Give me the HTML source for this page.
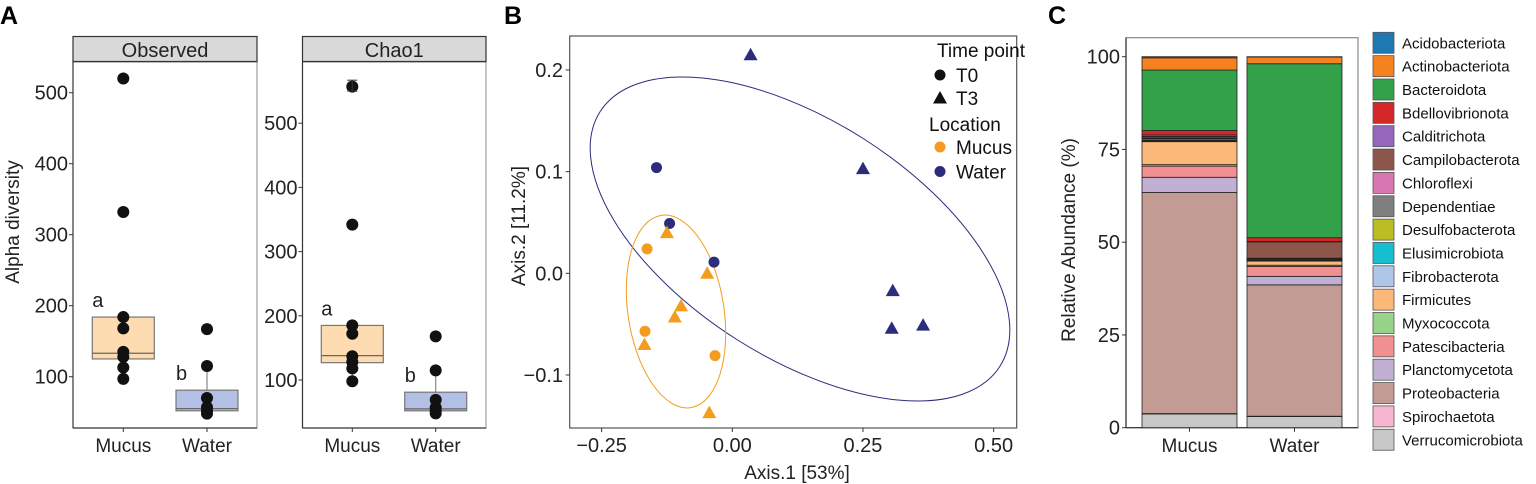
<!DOCTYPE html>
<html><head><meta charset="utf-8"><style>
html,body{margin:0;padding:0;background:#fff;}
svg{display:block;font-family:"Liberation Sans",Arial,sans-serif;}
</style></head><body>
<svg id="fig" width="1536" height="484" viewBox="0 0 1536 484">
<text x="0" y="24" font-size="25" font-weight="bold">A</text>
<text x="504" y="24" font-size="25" font-weight="bold">B</text>
<text x="1048" y="24" font-size="25" font-weight="bold">C</text>
<g id="pa"></g>
<g id="pb"></g>
<g id="pc"></g>
</svg>
<script>
// ---------- Panel A data ----------
const aGroups = ["Mucus","Water"];
const obsMucus = [520,332,184,168,135,128,113,97];
const obsWater = [167,115,70,57,52,48];
const obsBoxMucus = [125,133,184,97,184]; // q1, median, q3, whiskerLo, whiskerHi
const obsBoxWater = [52,55,81,48,115];
const chaoMucus = [557,342,185,172,137,128,118,98];
const chaoWater = [168,115,69,57,52,48];
const chaoBoxMucus = [127,138,185,98,185];
const chaoBoxWater = [52,55,81,48,115];
const chaoErr = [557,550,567];
const aTicks = [100,200,300,400,500];

// ---------- Panel B data ----------
const waterT0x = [-0.145,-0.12,-0.035];
const waterT0y = [0.104,0.049,0.011];
const waterT3x = [0.035,0.25,0.307,0.305,0.365];
const waterT3y = [0.215,0.103,-0.017,-0.054,-0.051];
const mucusT0x = [-0.163,-0.167,-0.033];
const mucusT0y = [0.024,-0.057,-0.081];
const mucusT3x = [-0.125,-0.048,-0.098,-0.11,-0.168,-0.044];
const mucusT3y = [0.040,0.000,-0.032,-0.043,-0.070,-0.137];
const bXTicks = [-0.25,0,0.25,0.5];
const bXLabels = ["\u22120.25","0.00","0.25","0.50"];
const bYTicks = [-0.1,0,0.1,0.2];
const bYLabels = ["\u22120.1","0.0","0.1","0.2"];

// ---------- Panel C data ----------
const phyla = ["Acidobacteriota","Actinobacteriota","Bacteroidota","Bdellovibrionota","Calditrichota","Campilobacterota","Chloroflexi","Dependentiae","Desulfobacterota","Elusimicrobiota","Fibrobacterota","Firmicutes","Myxococcota","Patescibacteria","Planctomycetota","Proteobacteria","Spirochaetota","Verrucomicrobiota"];
const phylaColors = ["#1f77b4","#f5821f","#33a04a","#d62728","#9467bd","#8c564b","#d776b0","#7f7f7f","#bcbd22","#17becf","#aec7e8","#fbb878","#98d38a","#f19090","#c2afd4","#c29c93","#f6b6d2","#c7c7c7"];
const cSamples = ["Mucus","Water"];
const mucusAbund = [0.3,3.3,16.3,1.2,0.4,0.4,0.2,0.4,0.2,0.1,0.1,6.2,0.4,3.0,4.1,59.6,0.1,3.7];
const waterAbund = [0.1,1.8,46.9,1.0,0.1,4.4,0.2,0.2,0.2,0.1,0.1,1.1,0.3,2.7,2.3,35.4,0.1,3.0];
const cTicks = [0,25,50,75,100];

const NS="http://www.w3.org/2000/svg";
function mk(parent,tag,attrs,text){const e=document.createElementNS(NS,tag);for(const k in attrs)e.setAttribute(k,attrs[k]);if(text!==undefined)e.textContent=text;parent.appendChild(e);return e;}

// ---------- Panel A ----------
const pa=document.getElementById('pa');
const yt=mk(pa,'text',{x:0,y:0,'font-size':19,'text-anchor':'middle',fill:'#222',transform:'translate(19,222) rotate(-90)'},'Alpha diversity');


function facet(cfg){
  const g=mk(pa,'g',{});
  
  
  const y=v=>cfg.y0-(v-100)*cfg.k;
  const xs=[cfg.xm,cfg.xw];
  mk(g,'rect',{x:cfg.l,y:62,width:cfg.r-cfg.l,height:366,fill:'#fff',stroke:'#888','stroke-width':1});
  const strip=mk(g,'rect',{x:cfg.l,y:36.5,width:cfg.r-cfg.l,height:25,fill:'#d9d9d9',stroke:'#333','stroke-width':1.2});
  
  
  const st=mk(g,'text',{x:(cfg.l+cfg.r)/2,y:57,'font-size':20,'text-anchor':'middle',fill:'#222'},cfg.title);
  
  
  mk(g,'line',{x1:cfg.l,y1:62,x2:cfg.l,y2:428,stroke:'#333','stroke-width':1.2});
  mk(g,'line',{x1:cfg.l,y1:428,x2:cfg.r,y2:428,stroke:'#333','stroke-width':1.2});
  aTicks.forEach(t=>{
    mk(g,'line',{x1:cfg.l-4,y1:y(t),x2:cfg.l,y2:y(t),stroke:'#333'});
    const tl=mk(g,'text',{x:cfg.l-5,y:y(t)+7,'font-size':20,'text-anchor':'end',fill:'#222'},String(t));
    
    
  });
  aGroups.forEach((gname,i)=>{
    mk(g,'line',{x1:xs[i],y1:428,x2:xs[i],y2:432,stroke:'#333'});
    const xl=mk(g,'text',{x:xs[i],y:452,'font-size':19,'text-anchor':'middle',fill:'#222'},gname);
    
    
  });
  [cfg.boxM,cfg.boxW].forEach((b,i)=>{
    const cx=xs[i];
    mk(g,'line',{x1:cx,y1:y(b[3]),x2:cx,y2:y(b[0]),stroke:'#888','stroke-width':1.2});
    mk(g,'line',{x1:cx,y1:y(b[2]),x2:cx,y2:y(b[4]),stroke:'#888','stroke-width':1.2});
    const r=mk(g,'rect',{x:cx-31,y:y(b[2]),width:62,height:y(b[0])-y(b[2]),fill:i?'#b3c0e6':'#fcdcb0',stroke:'#777','stroke-width':1.2});
    
    
    mk(g,'line',{x1:cx-31,y1:y(b[1]),x2:cx+31,y2:y(b[1]),stroke:'#666','stroke-width':1.2});
  });
  [cfg.ptsM,cfg.ptsW].forEach((arr,i)=>{
    arr.forEach(v=>{
      const c=mk(g,'circle',{cx:xs[i],cy:y(v),r:6,fill:'#111'});
      
      
    });
  });
  if(cfg.err){
    const e=cfg.err;
    mk(g,'line',{x1:xs[0],y1:y(e[1]),x2:xs[0],y2:y(e[2]),stroke:'#333'});
    mk(g,'line',{x1:xs[0]-5,y1:y(e[1]),x2:xs[0]+5,y2:y(e[1]),stroke:'#333'});
    mk(g,'line',{x1:xs[0]-5,y1:y(e[2]),x2:xs[0]+5,y2:y(e[2]),stroke:'#333'});
  }
  const la=mk(g,'text',{x:cfg.xm-31,y:y(cfg.boxM[2])-10,'font-size':20,fill:'#222'},'a');
  
  
  const lb=mk(g,'text',{x:cfg.xw-31,y:y(cfg.boxW[2])-10,'font-size':20,fill:'#222'},'b');
  
  
}
facet({name:'observed-facet',title:'Observed',l:73,r:257,xm:123.3,xw:207,y0:376.7,k:0.71,ptsM:obsMucus,ptsW:obsWater,boxM:obsBoxMucus,boxW:obsBoxWater});
facet({name:'chao1-facet',title:'Chao1',l:302.5,r:486,xm:352.3,xw:435.7,y0:380,k:0.642,ptsM:chaoMucus,ptsW:chaoWater,boxM:chaoBoxMucus,boxW:chaoBoxWater,err:chaoErr});

// ---------- Panel B ----------
const pb=document.getElementById('pb');
const bx=v=>732.3+v*522.7, by=v=>273.3-v*1016.7;
mk(pb,'rect',{x:569.7,y:36,width:447,height:392,fill:'none',stroke:'#555','stroke-width':1.2});
bXTicks.forEach((t,i)=>{
  mk(pb,'line',{x1:bx(t),y1:428,x2:bx(t),y2:432,stroke:'#333'});
  const tl=mk(pb,'text',{x:bx(t),y:452,'font-size':20,'text-anchor':'middle',fill:'#222'},bXLabels[i]);
  
  
});
bYTicks.forEach((t,i)=>{
  mk(pb,'line',{x1:565.7,y1:by(t),x2:569.7,y2:by(t),stroke:'#333'});
  const tl=mk(pb,'text',{x:563,y:by(t)+7,'font-size':20,'text-anchor':'end',fill:'#222'},bYLabels[i]);
  
  
});
const bxt=mk(pb,'text',{x:797,y:479,'font-size':19,'text-anchor':'middle',fill:'#222'},'Axis.1 [53%]');


const byt=mk(pb,'text',{x:0,y:0,'font-size':19,'text-anchor':'middle',fill:'#222',transform:'translate(525,226) rotate(-90)'},'Axis.2 [11.2%]');


const e1=mk(pb,'ellipse',{cx:800,cy:239,rx:237,ry:118.7,transform:'rotate(32.5 800 239)',fill:'none',stroke:'#2b2d7c','stroke-width':1});


const e2=mk(pb,'ellipse',{cx:676,cy:311.5,rx:97.3,ry:48,transform:'rotate(81.3 676 311.5)',fill:'none',stroke:'#f39c1e','stroke-width':1});


function circ(xs,ys,col){xs.forEach((v,i)=>{const c=mk(pb,'circle',{cx:bx(v),cy:by(ys[i]),r:5.5,fill:col});});}
function tri(xs,ys,col){xs.forEach((v,i)=>{const X=bx(v),Y=by(ys[i]);const p=mk(pb,'polygon',{points:`${X},${Y-7} ${X-7},${Y+5.5} ${X+7},${Y+5.5}`,fill:col});});}
const ORG='#f39c1e', NAV='#2b2d7c';
circ(waterT0x,waterT0y,NAV);tri(waterT3x,waterT3y,NAV);
circ(mucusT0x,mucusT0y,ORG);tri(mucusT3x,mucusT3y,ORG);
const lg=mk(pb,'g',{});


mk(lg,'text',{x:937,y:57,'font-size':19,fill:'#111'},'Time point');
mk(lg,'circle',{cx:940,cy:75,r:5.5,fill:'#111'});
mk(lg,'text',{x:956,y:82,'font-size':19,fill:'#111'},'T0');
mk(lg,'polygon',{points:'940,91 933,103.5 947,103.5',fill:'#111'});
mk(lg,'text',{x:956,y:105,'font-size':19,fill:'#111'},'T3');
mk(lg,'text',{x:929,y:131,'font-size':19,fill:'#111'},'Location');
mk(lg,'circle',{cx:940,cy:147,r:5.5,fill:ORG});
mk(lg,'text',{x:956,y:154,'font-size':19,fill:'#111'},'Mucus');
mk(lg,'circle',{cx:940,cy:171.5,r:5.5,fill:NAV});
mk(lg,'text',{x:956,y:178.5,'font-size':19,fill:'#111'},'Water');

// ---------- Panel C ----------
const pc=document.getElementById('pc');
const cy=v=>427.7-v*3.71;
const barX=[1142,1247], barW=95;
mk(pc,'rect',{x:1126,y:37.7,width:232,height:390,fill:'#fff',stroke:'#888','stroke-width':1.2});
mk(pc,'line',{x1:1126,y1:37.7,x2:1126,y2:427.7,stroke:'#333','stroke-width':1.2});
mk(pc,'line',{x1:1126,y1:427.7,x2:1358,y2:427.7,stroke:'#333','stroke-width':1.2});
cTicks.forEach(t=>{
  mk(pc,'line',{x1:1122,y1:cy(t),x2:1126,y2:cy(t),stroke:'#333'});
  const tl=mk(pc,'text',{x:1120,y:cy(t)+7,'font-size':20,'text-anchor':'end',fill:'#222'},String(t));
  
  
});
const cyt=mk(pc,'text',{x:0,y:0,'font-size':19,'text-anchor':'middle',fill:'#222',transform:'translate(1075,240) rotate(-90)'},'Relative Abundance (%)');


[mucusAbund,waterAbund].forEach((vals,si)=>{
  let acc=0;
  for(let i=phyla.length-1;i>=0;i--){
    const v=vals[i];
    const r=mk(pc,'rect',{x:barX[si],y:cy(acc+v),width:barW,height:cy(acc)-cy(acc+v),fill:phylaColors[i],stroke:'#222','stroke-width':0.8});
    
    
    acc+=v;
  }
  const cx=barX[si]+barW/2;
  mk(pc,'line',{x1:cx,y1:427.7,x2:cx,y2:431.7,stroke:'#333'});
  const xl=mk(pc,'text',{x:cx,y:452,'font-size':19,'text-anchor':'middle',fill:'#222'},cSamples[si]);
  
  
});
phyla.forEach((p,i)=>{
  const y0=32.3+i*23.35;
  const k=mk(pc,'rect',{x:1373,y:y0,width:21,height:21,fill:phylaColors[i],stroke:'#555','stroke-width':0.8});
  
  
  const t=mk(pc,'text',{x:1402,y:y0+16,'font-size':15,fill:'#111'},p);
  
  
});
</script>
</body></html>
